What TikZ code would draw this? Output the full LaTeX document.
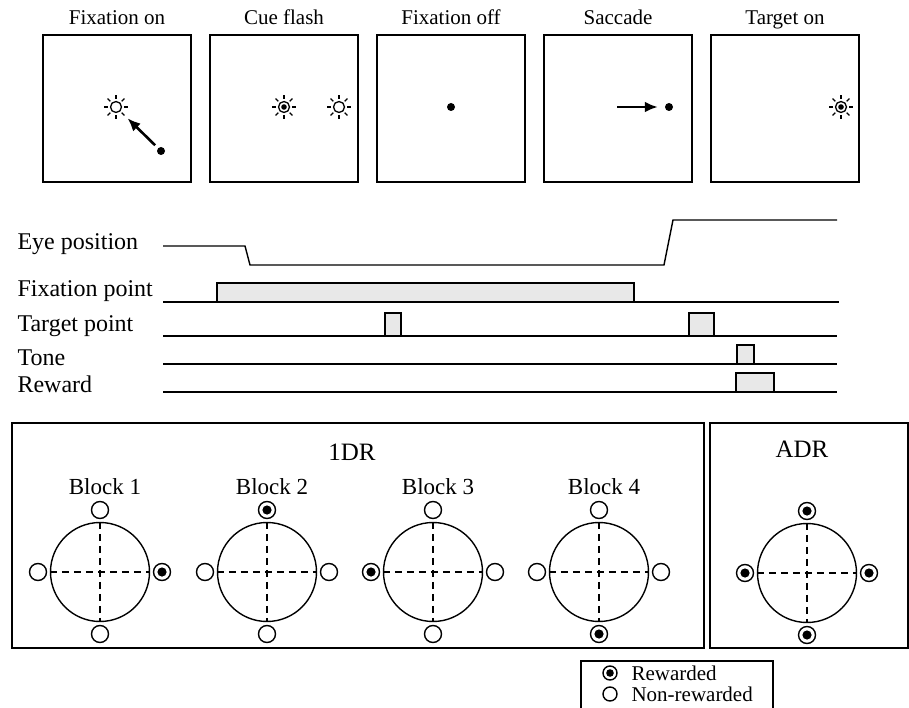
\documentclass[tikz,border=0pt]{standalone}
\usepackage{fontspec}
\setmainfont{Liberation Serif}
\usetikzlibrary{arrows.meta}

\begin{document}
\begin{tikzpicture}[
        x=1pt, y=-1pt,
        frame/.style={draw, line width=1.4pt},
        title/.style={anchor=base, font=\fontsize{21}{25}\selectfont},
        rowlabel/.style={anchor=base west, font=\fontsize{24}{28}\selectfont},
        blocklabel/.style={anchor=base, font=\fontsize{23}{27}\selectfont},
        tasklabel/.style={anchor=base, font=\fontsize{25}{30}\selectfont},
        keylabel/.style={anchor=base west, font=\fontsize{21}{25}\selectfont},
        lamp/.style={circle, draw, line width=1.3pt, minimum size=11pt, inner sep=0pt},
        lampon/.style={lamp, path picture={\fill (path picture bounding box.center) circle (2.8pt);}},
        ray/.style={line width=1.3pt},
        fixdot/.style={circle, fill, minimum size=8pt, inner sep=0pt},
        saccade/.style={line width=2.6pt, -{Latex[length=13pt,width=11pt]}},
        trace/.style={line width=1.4pt},
        pulse/.style={draw, fill=black!9, line width=1.4pt},
        field/.style={circle, draw, line width=1.4pt, minimum size=99pt, inner sep=0pt},
        axis/.style={line width=1.4pt, dash pattern=on 7pt off 5pt},
        target/.style={circle, draw, fill=white, line width=1.4pt, minimum size=17pt, inner sep=0pt},
        keytarget/.style={target, minimum size=14pt}
    ]
    \useasboundingbox (0,0) rectangle (909,708);

    % Panels
    \foreach \i/\t in {1/Fixation on,2/Cue flash,3/Fixation off,4/Saccade,5/Target on} {
        \node[frame, minimum width=148pt, minimum height=147pt] (p\i) at ({117+(\i-1)*167},108.5) {};
        \node[title] (h\i) at ({117+(\i-1)*167},25) {\t};
    }

    % Lampen, Punkte
    \node[lamp]   (s1)  at (116,107) {};
    \node[fixdot] (d1)  at (161,151) {};
    \node[lampon] (s2a) at (284,107) {};
    \node[lamp]   (s2b) at (339,107) {};
    \node[fixdot] (d3)  at (451,107) {};
    \node[fixdot] (d4)  at (669,107) {};
    \coordinate   (a4)  at (617,107);
    \node[lampon] (s5)  at (841,107) {};

    \foreach \s in {s1,s2a,s2b,s5}
        \foreach \a in {0,45,...,315}
            \draw[ray] ([shift={(\a:8pt)}]\s.center) -- ([shift={(\a:12pt)}]\s.center);

    \draw[saccade, shorten <=4pt, shorten >=10pt] (d1) -- (s1);
    \draw[saccade, shorten >=7pt] (a4) -- (d4);

    % Zeitverlauf
    \foreach \n/\t/\y in {eye/Eye position/250,fix/Fixation point/297,tgt/Target point/331,tone/Tone/365,rew/Reward/392}
        \node[rowlabel] (l-\n) at (14,\y) {\t};

    \draw[trace] (163,246) -- (245,246) -- (250,265) -- (664,265) -- (673,220) -- (837,220);

    \filldraw[pulse] (217,302) rectangle (634,283);
    \draw[trace] (163,302) -- (839,302);

    \filldraw[pulse] (385,336) rectangle (401,313);
    \filldraw[pulse] (689,336) rectangle (714,313);
    \draw[trace] (163,336) -- (837,336);

    \filldraw[pulse] (737,364) rectangle (754,345);
    \draw[trace] (163,364) -- (837,364);

    \filldraw[pulse] (736,392) rectangle (774,373);
    \draw[trace] (163,392) -- (837,392);

    % 1DR
    \draw[frame] (12,423) rectangle (704,648);
    \node[tasklabel] (odr) at (352,460) {1DR};
    \foreach \i/\x/\r in {1/100/east,2/267/north,3/433/west,4/599/south} {
        \node[field] (c\i) at (\x,572) {};
        \node[blocklabel] (b\i) at (\x+5,494) {Block \i};
        \draw[axis] (c\i.north) -- (c\i.south);
        \draw[axis] (c\i.west) -- (c\i.east);
        \foreach \d/\a in {north/90,east/0,south/270,west/180}
            \node[target] (t\i-\d) at ([shift={(\a:62pt)}]c\i.center) {};
        \fill (t\i-\r) circle (4.6pt);
    }

    % ADR
    \draw[frame] (710,423) rectangle (908,648);
    \node[tasklabel] (adr) at (802,457) {ADR};
    \node[field] (c5) at (807,573) {};
    \draw[axis] (c5.north) -- (c5.south);
    \draw[axis] (c5.west) -- (c5.east);
    \foreach \d/\a in {north/90,east/0,south/270,west/180} {
        \node[target] (t5-\d) at ([shift={(\a:62pt)}]c5.center) {};
        \fill (t5-\d) circle (4.6pt);
    }

    % Legende
    \draw[line width=1.2pt] (581,708) |- (773,661) -- (773,708);
    \node[keytarget] (k-rew) at (610,673) {};
    \fill (k-rew) circle (3.8pt);
    \node[keytarget] (k-non) at (610,694) {};
    \node[keylabel] (kl-rew) at (628,680) {Rewarded};
    \node[keylabel] (kl-non) at (628,701) {Non-rewarded};

\end{tikzpicture}
\end{document}
